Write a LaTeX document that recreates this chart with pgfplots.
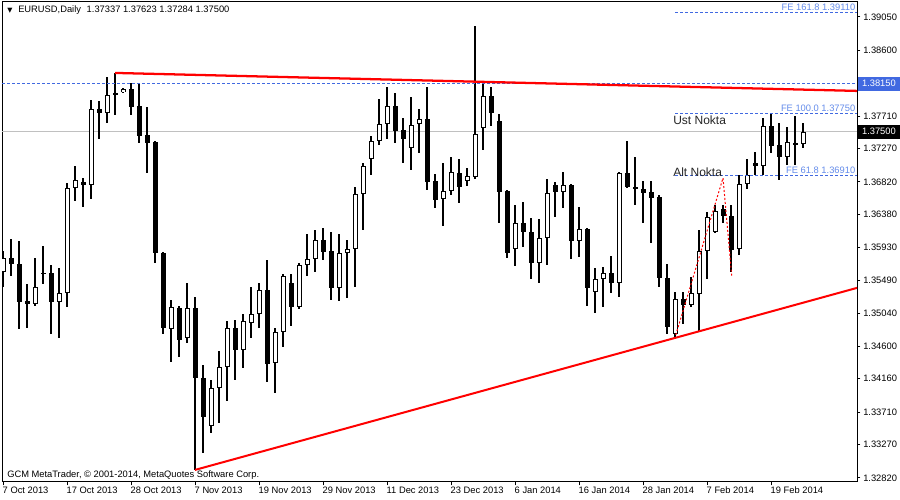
\documentclass[border=0pt]{standalone}
\usepackage{fontspec}
\setmainfont{Liberation Sans}
\newfontfamily\dejavu{DejaVu Sans}
\usepackage{pgfplots}
\usepackage{pgfplotstable}
\pgfplotsset{compat=1.18}
\definecolor{mtblue}{RGB}{65,105,225}
\definecolor{fetext}{RGB}{100,140,235}
\definecolor{bidgray}{RGB}{192,192,192}

% EURUSD daily candles: index, open, high, low, close
\pgfplotstableread{
i o h l c
0 1.35604 1.35888 1.35401 1.35793
1 1.35793 1.36050 1.35550 1.35712
2 1.35712 1.36023 1.34834 1.35199
3 1.35212 1.35442 1.34847 1.35171
4 1.35171 1.35793 1.35144 1.35401
5 1.35590 1.35955 1.35442 1.35585
6 1.35590 1.35699 1.34766 1.35199
7 1.35199 1.35658 1.34712 1.35320
8 1.35320 1.36807 1.35131 1.36739
9 1.36739 1.37036 1.36563 1.36847
10 1.36820 1.36874 1.36482 1.36780
11 1.36780 1.37928 1.36590 1.37807
12 1.37807 1.37915 1.37401 1.37753
13 1.37753 1.38239 1.37618 1.37996
14 1.38023 1.38293 1.37726 1.37996
15 1.38036 1.38091 1.38023 1.38077
16 1.38077 1.38158 1.37726 1.37834
17 1.37847 1.38158 1.37347 1.37442
18 1.37455 1.37834 1.36942 1.37347
19 1.37361 1.37374 1.35726 1.35861
20 1.35861 1.35874 1.34766 1.34847
21 1.34834 1.35226 1.34388 1.35131
22 1.35117 1.35144 1.34455 1.34685
23 1.34712 1.35455 1.34644 1.35117
24 1.35117 1.35266 1.32928 1.34171
25 1.34171 1.34347 1.33158 1.33644
26 1.33523 1.34144 1.33428 1.34036
27 1.34036 1.34536 1.33563 1.34320
28 1.34320 1.34942 1.33861 1.34847
29 1.34847 1.34955 1.34144 1.34550
30 1.34550 1.35036 1.34307 1.34942
31 1.34915 1.35401 1.34712 1.35036
32 1.35036 1.35455 1.34847 1.35361
33 1.35361 1.35766 1.34117 1.34361
34 1.34374 1.34847 1.33969 1.34793
35 1.34793 1.35577 1.34590 1.35550
36 1.35455 1.35577 1.34874 1.35131
37 1.35131 1.35726 1.35104 1.35699
38 1.35699 1.36117 1.35550 1.35780
39 1.35780 1.36171 1.35604 1.36036
40 1.36036 1.36199 1.35766 1.35874
41 1.35888 1.36145 1.35226 1.35388
42 1.35388 1.36117 1.35212 1.35861
43 1.35861 1.36036 1.35253 1.35915
44 1.35915 1.36753 1.35401 1.36658
45 1.36658 1.37077 1.36172 1.37036
46 1.37131 1.37442 1.36915 1.37374
47 1.37374 1.37942 1.37320 1.37604
48 1.37604 1.38104 1.37401 1.37847
49 1.37847 1.38023 1.37347 1.37509
50 1.37523 1.37685 1.37077 1.37401
51 1.37280 1.37969 1.36982 1.37590
52 1.37604 1.37807 1.37212 1.37672
53 1.37672 1.38104 1.36712 1.36820
54 1.36834 1.36928 1.36469 1.36577
55 1.36590 1.37077 1.36226 1.36699
56 1.36699 1.37158 1.36645 1.36955
57 1.36942 1.37131 1.36536 1.36753
58 1.36834 1.37009 1.36766 1.36901
59 1.36888 1.38928 1.36861 1.37469
60 1.37550 1.38158 1.37253 1.37982
61 1.37982 1.38104 1.37577 1.37753
62 1.37645 1.37739 1.36266 1.36685
63 1.36699 1.36712 1.35793 1.35861
64 1.35915 1.36509 1.35685 1.36266
65 1.36266 1.36550 1.35942 1.36145
66 1.36145 1.36334 1.35509 1.35726
67 1.35726 1.36320 1.35455 1.36063
68 1.36063 1.36861 1.35699 1.36672
69 1.36780 1.36820 1.36347 1.36685
70 1.36685 1.36955 1.36469 1.36780
71 1.36780 1.36793 1.35780 1.36023
72 1.36023 1.36482 1.35807 1.36185
73 1.36185 1.36199 1.35144 1.35388
74 1.35334 1.35658 1.35050 1.35509
75 1.35509 1.35672 1.35131 1.35590
76 1.35590 1.35820 1.35320 1.35455
77 1.35455 1.36955 1.35266 1.36942
78 1.36942 1.37374 1.36739 1.36753
79 1.36753 1.37158 1.36509 1.36726
80 1.36726 1.36834 1.36266 1.36672
81 1.36685 1.36834 1.35996 1.36604
82 1.36617 1.36645 1.35401 1.35523
83 1.35523 1.35712 1.34766 1.34861
84 1.34766 1.35334 1.34726 1.35239
85 1.35239 1.35334 1.34901 1.35158
86 1.35158 1.35536 1.35131 1.35320
87 1.35307 1.36172 1.34807 1.35888
88 1.35888 1.36415 1.35509 1.36347
89 1.36145 1.36509 1.36131 1.36428
90 1.36455 1.36509 1.36266 1.36361
91 1.36361 1.36509 1.35604 1.35901
92 1.35915 1.36915 1.35834 1.36793
93 1.36793 1.37131 1.36726 1.36915
94 1.37077 1.37226 1.36915 1.37036
95 1.37036 1.37685 1.36915 1.37577
96 1.37577 1.37739 1.37212 1.37307
97 1.37320 1.37617 1.36847 1.37158
98 1.37158 1.37563 1.37050 1.37361
99 1.37334 1.37712 1.37050 1.37340
100 1.37337 1.37623 1.37284 1.37500
}\ohlc

\begin{document}
\begin{tikzpicture}
\fill[white] (0,0) rectangle (675pt,375pt);
\useasboundingbox (0,0) rectangle (675pt,375pt);
\begin{axis}[
  at={(1.5pt,13.5pt)}, anchor=south west,
  scale only axis, width=641.25pt, height=360pt,
  xmin=-0.125, xmax=106.75, ymin=1.32766, ymax=1.39253,
  clip mode=individual,
  axis line style={line width=0.75pt, black},
  xtick={0,8,16,24,32,40,48,56,64,72,80,88,96},
  xticklabels={7 Oct 2013,17 Oct 2013,28 Oct 2013,7 Nov 2013,19 Nov 2013,29 Nov 2013,11 Dec 2013,23 Dec 2013,6 Jan 2014,16 Jan 2014,28 Jan 2014,7 Feb 2014,19 Feb 2014},
  ytick={1.3905,1.386,1.3771,1.3727,1.3682,1.3638,1.3593,1.3549,1.3504,1.346,1.3416,1.3371,1.3327,1.3282},
  yticklabels={1.39050,1.38600,1.37710,1.37270,1.36820,1.36380,1.35930,1.35490,1.35040,1.34600,1.34160,1.33710,1.33270,1.32820},
  xtick pos=bottom, ytick pos=right, yticklabel pos=right,
  tick align=outside, major tick length=2.6pt,
  tick style={black, line width=0.75pt},
  tick label style={font=\fontsize{7}{8}\selectfont, text=black},
  xticklabel style={anchor=north west, inner sep=0pt, xshift=-0.4pt, yshift=-1.2pt},
  yticklabel style={anchor=west, inner sep=0pt, xshift=1.9pt},
  scaled y ticks=false, scaled x ticks=false,
]
% bid line
\addplot[bidgray, line width=0.75pt, forget plot] coordinates {(-0.125,1.375) (106.75,1.375)};
% wicks
\addplot[draw=none, mark=none, forget plot,
  error bars/.cd, y dir=both, y explicit, error mark=none,
  error bar style={draw=black, solid, line width=0.8pt, line cap=butt}]
  table[x=i, y expr={(\thisrow{h}+\thisrow{l})/2}, y error expr={(\thisrow{h}-\thisrow{l})/2}] {\ohlc};
% bodies (black outline / full black)
\addplot[draw=none, mark=none, forget plot,
  error bars/.cd, y dir=both, y explicit, error mark=none,
  error bar style={draw=black, solid, line width=3.75pt, line cap=butt}]
  table[x=i, y expr={(\thisrow{o}+\thisrow{c})/2}, y error expr={max(abs(\thisrow{o}-\thisrow{c})/2,0.0000676)}] {\ohlc};
% white inner of bullish bodies
\addplot[draw=none, mark=none, forget plot,
  error bars/.cd, y dir=both, y explicit, error mark=none,
  error bar style={draw=white, solid, line width=2.25pt, line cap=butt}]
  table[x=i, y expr={(\thisrow{o}+\thisrow{c})/2-1+(\thisrow{c}>\thisrow{o})}, y error expr={max((\thisrow{c}-\thisrow{o})/2-0.000135,0)}] {\ohlc};
% horizontal line 1.3815
\addplot[mtblue, line width=0.75pt, dash pattern=on 2.25pt off 1.5pt, forget plot] coordinates {(-0.125,1.3815) (106.75,1.3815)};
% FE levels
\addplot[mtblue, line width=0.75pt, dash pattern=on 2.25pt off 1.5pt, forget plot] coordinates {(84,1.3911) (106.75,1.3911)};
\addplot[mtblue, line width=0.75pt, dash pattern=on 2.25pt off 1.5pt, forget plot] coordinates {(84,1.3775) (106.75,1.3775)};
\addplot[mtblue, line width=0.75pt, dash pattern=on 2.25pt off 1.5pt, forget plot] coordinates {(84,1.3691) (106.75,1.3691)};
% FE construction (dotted)
\addplot[red, line width=0.75pt, dash pattern=on 1.5pt off 1.5pt, forget plot] coordinates {(84.1,1.34753) (90,1.36874) (91.1,1.35536)};
% trend lines
\addplot[red, line width=1.7pt, forget plot] coordinates {(14,1.38293) (106.75,1.38050)};
\addplot[red, line width=1.5pt, forget plot] coordinates {(24,1.32928) (106.75,1.35388)};

% texts
\node[font=\dejavu\fontsize{5}{5}\selectfont, inner sep=0pt] at (rel axis cs:0.00936,0.9823) {▼};
\node[anchor=west, inner sep=0pt, font=\fontsize{7}{8}\selectfont] at (rel axis cs:0.0187,0.9823) {EURUSD,Daily\hspace{4.3pt}1.37337 1.37623 1.37284 1.37500};
\node[anchor=west, inner sep=0pt, font=\fontsize{7}{8}\selectfont] at (rel axis cs:0.00585,0.0146) {GCM MetaTrader, © 2001-2014, MetaQuotes Software Corp.};
\node[anchor=west, inner sep=0pt, font=\fontsize{9}{10}\selectfont, text=black!85] at (axis cs:83.75,1.37658) {Ust Nokta};
\node[anchor=west, inner sep=0pt, font=\fontsize{9}{10}\selectfont, text=black!85] at (axis cs:83.75,1.36955) {Alt Nokta};
\node[anchor=base east, inner sep=0pt, yshift=1.5pt, font=\fontsize{7}{8}\selectfont, text=fetext] at (axis cs:106.56,1.3911) {FE 161.8 1.39110};
\node[anchor=base east, inner sep=0pt, yshift=1.5pt, font=\fontsize{7}{8}\selectfont, text=fetext] at (axis cs:106.56,1.3775) {FE 100.0 1.37750};
\node[anchor=base east, inner sep=0pt, yshift=1.5pt, font=\fontsize{7}{8}\selectfont, text=fetext] at (axis cs:106.56,1.3691) {FE 61.8 1.36910};
% price labels on the scale
\node[anchor=west, xshift=0.4pt, fill=mtblue, text=white, inner xsep=3.2pt, inner ysep=0pt, minimum height=10.5pt, text width=25.5pt, align=left, font=\fontsize{7}{8}\selectfont] at (axis cs:106.75,1.3815) {1.38150};
\node[anchor=west, xshift=0.4pt, fill=black, text=white, inner xsep=3.2pt, inner ysep=0pt, minimum height=10.5pt, text width=25.5pt, align=left, font=\fontsize{7}{8}\selectfont] at (axis cs:106.75,1.375) {1.37500};
\end{axis}
\end{tikzpicture}
\end{document}
